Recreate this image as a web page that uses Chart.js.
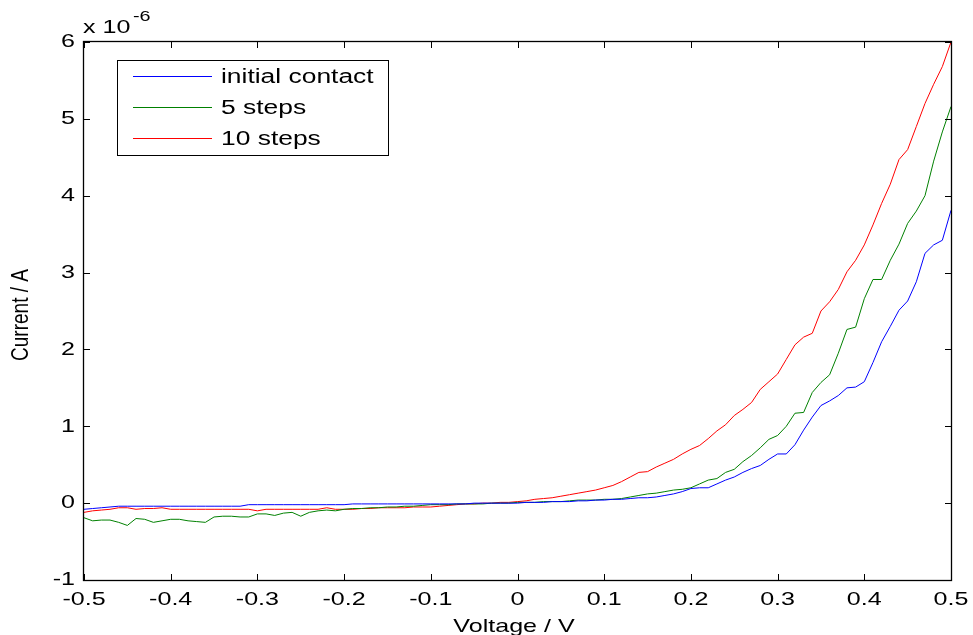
<!DOCTYPE html>
<html>
<head>
<meta charset="utf-8">
<script src="https://cdn.jsdelivr.net/npm/chart.js@4"></script>
<style>
  html, body { margin: 0; padding: 0; background: #fff; }
  #wrap { width: 973px; height: 635px; position: relative; }
</style>
</head>
<body>
<div id="wrap"><canvas id="ivChart"></canvas></div>
<script>
// voltage sweep (V)
const voltage = [
  -0.50, -0.49, -0.48, -0.47, -0.46, -0.45, -0.44, -0.43, -0.42, -0.41,
  -0.40, -0.39, -0.38, -0.37, -0.36, -0.35, -0.34, -0.33, -0.32, -0.31,
  -0.30, -0.29, -0.28, -0.27, -0.26, -0.25, -0.24, -0.23, -0.22, -0.21,
  -0.20, -0.19, -0.18, -0.17, -0.16, -0.15, -0.14, -0.13, -0.12, -0.11,
  -0.10, -0.09, -0.08, -0.07, -0.06, -0.05, -0.04, -0.03, -0.02, -0.01,
  0.00, 0.01, 0.02, 0.03, 0.04, 0.05, 0.06, 0.07, 0.08, 0.09,
  0.10, 0.11, 0.12, 0.13, 0.14, 0.15, 0.16, 0.17, 0.18, 0.19,
  0.20, 0.21, 0.22, 0.23, 0.24, 0.25, 0.26, 0.27, 0.28, 0.29,
  0.30, 0.31, 0.32, 0.33, 0.34, 0.35, 0.36, 0.37, 0.38, 0.39,
  0.40, 0.41, 0.42, 0.43, 0.44, 0.45, 0.46, 0.47, 0.48, 0.49,
  0.50
];

// current, in units of 1e-6 A
const initialContact = [
  -0.08, -0.07, -0.06, -0.05, -0.04, -0.04, -0.04, -0.04, -0.04, -0.04,
  -0.04, -0.04, -0.04, -0.04, -0.04, -0.04, -0.04, -0.04, -0.04, -0.02,
  -0.02, -0.02, -0.02, -0.02, -0.02, -0.02, -0.02, -0.02, -0.02, -0.02,
  -0.02, -0.01, -0.01, -0.01, -0.01, -0.01, -0.01, -0.01, -0.01, -0.01,
  -0.01, -0.01, -0.01, -0.01, -0.01, 0.00, 0.00, 0.00, 0.00, 0.00,
  0.00, 0.01, 0.01, 0.01, 0.02, 0.02, 0.02, 0.03, 0.03, 0.04,
  0.04, 0.05, 0.05, 0.06, 0.07, 0.07, 0.08, 0.10, 0.12, 0.15,
  0.19, 0.20, 0.20, 0.25, 0.30, 0.34, 0.40, 0.45, 0.49, 0.57,
  0.64, 0.64, 0.76, 0.95, 1.12, 1.27, 1.33, 1.40, 1.50, 1.51,
  1.58, 1.83, 2.10, 2.30, 2.51, 2.63, 2.88, 3.25, 3.36, 3.42,
  3.81
];

const fiveSteps = [
  -0.19, -0.23, -0.22, -0.22, -0.25, -0.29, -0.20, -0.21, -0.25, -0.23,
  -0.21, -0.21, -0.23, -0.24, -0.25, -0.18, -0.17, -0.17, -0.18, -0.18,
  -0.14, -0.14, -0.16, -0.13, -0.12, -0.17, -0.12, -0.10, -0.09, -0.10,
  -0.08, -0.07, -0.07, -0.06, -0.06, -0.05, -0.05, -0.04, -0.04, -0.03,
  -0.02, -0.02, -0.02, -0.01, -0.01, -0.01, -0.01, 0.00, 0.00, 0.00,
  0.01, 0.01, 0.01, 0.02, 0.02, 0.02, 0.03, 0.04, 0.04, 0.04,
  0.05, 0.05, 0.06, 0.08, 0.10, 0.12, 0.13, 0.15, 0.17, 0.18,
  0.20, 0.25, 0.30, 0.32, 0.40, 0.44, 0.54, 0.62, 0.72, 0.83,
  0.88, 1.00, 1.17, 1.18, 1.44, 1.57, 1.67, 1.95, 2.26, 2.29,
  2.66, 2.91, 2.91, 3.16, 3.37, 3.64, 3.80, 4.00, 4.45, 4.83,
  5.16
];

const tenSteps = [
  -0.12, -0.10, -0.09, -0.08, -0.06, -0.06, -0.08, -0.07, -0.07, -0.06,
  -0.08, -0.08, -0.08, -0.08, -0.08, -0.08, -0.08, -0.08, -0.08, -0.08,
  -0.10, -0.08, -0.08, -0.08, -0.08, -0.08, -0.08, -0.08, -0.06, -0.08,
  -0.08, -0.08, -0.07, -0.07, -0.06, -0.06, -0.06, -0.06, -0.05, -0.05,
  -0.05, -0.04, -0.03, -0.02, -0.01, -0.01, 0.00, 0.00, 0.01, 0.01,
  0.02, 0.03, 0.05, 0.06, 0.07, 0.09, 0.11, 0.13, 0.15, 0.17,
  0.20, 0.23, 0.28, 0.34, 0.40, 0.41, 0.47, 0.52, 0.57, 0.64,
  0.70, 0.75, 0.84, 0.94, 1.02, 1.14, 1.22, 1.31, 1.48, 1.58,
  1.68, 1.87, 2.06, 2.16, 2.21, 2.50, 2.62, 2.78, 3.01, 3.16,
  3.36, 3.62, 3.90, 4.15, 4.47, 4.60, 4.90, 5.20, 5.45, 5.68,
  6.00
];

const seriesLabels = ['initial contact', '5 steps', '10 steps'];
const seriesColors = ['#0000ff', '#008000', '#ff0000'];

const xTicks = [-0.5, -0.4, -0.3, -0.2, -0.1, 0, 0.1, 0.2, 0.3, 0.4, 0.5];
const xTickLabels = ['-0.5', '-0.4', '-0.3', '-0.2', '-0.1', '0', '0.1', '0.2', '0.3', '0.4', '0.5'];
const yTicks = [-1, 0, 1, 2, 3, 4, 5, 6];
const yTickLabels = ['-1', '0', '1', '2', '3', '4', '5', '6'];

const FONT = '"Liberation Sans", Arial, sans-serif';
const STRETCH = 1.32; // the original figure is a bit wider than tall

function stretchedText(ctx, str, x, y, size, align, baseline) {
    ctx.save();
    ctx.translate(x, y);
    ctx.scale(STRETCH, 1);
    ctx.font = size + 'px ' + FONT;
    ctx.textAlign = align;
    ctx.textBaseline = baseline;
    ctx.fillText(str, 0, 0);
    ctx.restore();
}

// matlab-like box, inward ticks, labels and legend
const matlabFrame = {
    id: 'matlabFrame',
    afterDraw(chart) {
        const { ctx, chartArea: a, scales: { x, y } } = chart;
        ctx.save();
        ctx.strokeStyle = '#000';
        ctx.fillStyle = '#000';
        ctx.lineWidth = 1.3;

        ctx.strokeRect(a.left - 0.5, a.top - 0.5, a.right - a.left + 1, a.bottom - a.top + 1);

        ctx.lineWidth = 1;
        ctx.beginPath();
        xTicks.forEach(v => {
            const px = Math.round(x.getPixelForValue(v)) + 0.5;
            ctx.moveTo(px, a.bottom); ctx.lineTo(px, a.bottom - 6);
            ctx.moveTo(px, a.top); ctx.lineTo(px, a.top + 6);
        });
        yTicks.forEach(v => {
            const py = Math.round(y.getPixelForValue(v)) + 0.5;
            ctx.moveTo(a.left, py); ctx.lineTo(a.left + 6, py);
            ctx.moveTo(a.right, py); ctx.lineTo(a.right - 6, py);
        });
        ctx.stroke();

        xTicks.forEach((v, i) => {
            stretchedText(ctx, xTickLabels[i], x.getPixelForValue(v), 600, 19, 'center', 'middle');
        });
        yTicks.forEach((v, i) => {
            stretchedText(ctx, yTickLabels[i], a.left - 9, y.getPixelForValue(v), 19, 'right', 'middle');
        });

        // exponent
        stretchedText(ctx, 'x 10', a.left - 1, 33, 19, 'left', 'alphabetic');
        stretchedText(ctx, '-6', a.left + 49, 21, 15, 'left', 'alphabetic');

        // axis titles
        stretchedText(ctx, 'Voltage / V', 514, 632, 19, 'center', 'alphabetic');
        ctx.save();
        ctx.translate(21, 315);
        ctx.scale(STRETCH * 0.95, 1);
        ctx.rotate(-Math.PI / 2);
        ctx.font = '19px ' + FONT;
        ctx.textAlign = 'center';
        ctx.textBaseline = 'middle';
        ctx.fillText('Current / A', 0, 0);
        ctx.restore();

        // legend
        ctx.fillStyle = '#fff';
        ctx.fillRect(117, 60, 271, 95);
        ctx.fillStyle = '#000';
        ctx.strokeRect(117.5, 60.5, 271, 95);
        const rows = [76, 107, 138];
        chart.data.datasets.forEach((ds, i) => {
            ctx.strokeStyle = ds.borderColor;
            ctx.beginPath();
            ctx.moveTo(133, rows[i] + 0.5);
            ctx.lineTo(212, rows[i] + 0.5);
            ctx.stroke();
            stretchedText(ctx, ds.label, 221, rows[i] + 1, 20, 'left', 'middle');
        });
        ctx.restore();
    }
};

const ctx = document.getElementById('ivChart').getContext('2d');
new Chart(ctx, {
    type: 'line',
    data: {
        datasets: [initialContact, fiveSteps, tenSteps].map((vals, i) => ({
            label: seriesLabels[i],
            data: voltage.map((v, j) => ({ x: v, y: vals[j] })),
            borderColor: seriesColors[i],
            borderWidth: 1,
            pointRadius: 0,
            tension: 0,
            fill: false
        }))
    },
    options: {
        responsive: true,
        maintainAspectRatio: false,
        animation: false,
        layout: {
            padding: { left: 84, right: 22, top: 42, bottom: 55 }
        },
        scales: {
            x: { type: 'linear', display: false, min: -0.5, max: 0.5 },
            y: { type: 'linear', display: false, min: -1, max: 6 }
        },
        plugins: {
            legend: { display: false },
            tooltip: { enabled: false }
        }
    },
    plugins: [matlabFrame]
});
</script>
</body>
</html>
